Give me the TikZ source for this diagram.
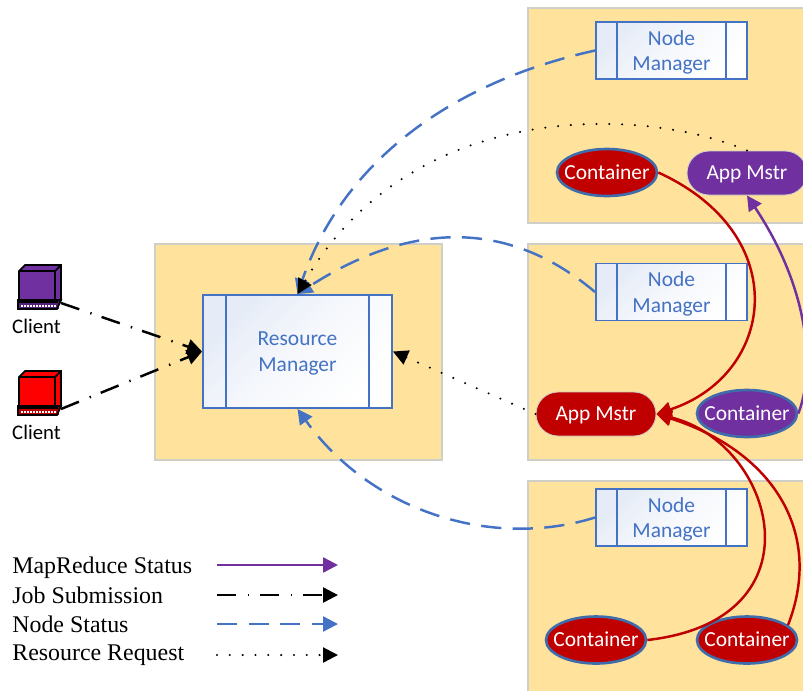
\documentclass[tikz,border=0pt]{standalone}
\usepackage{fontspec}
\setmainfont{Liberation Serif}
\newfontfamily\boxfont{Carlito}
\usetikzlibrary{positioning, calc, arrows.meta, shapes.geometric, shapes.misc}
\definecolor{panelyellow}{HTML}{FFE29B}
\definecolor{panelline}{HTML}{CFCFC8}
\definecolor{boxblue}{HTML}{4472C4}
\definecolor{mrpurple}{HTML}{7030A0}
\definecolor{mrred}{HTML}{C00000}
\definecolor{rimblue}{HTML}{3F6CAB}
\pgfdeclareverticalshading{mgrshade}{100bp}{color(0bp)=(white); color(25bp)=(white); color(50bp)=(white!95!boxblue); color(75bp)=(white!86!boxblue); color(100bp)=(white!86!boxblue)}
\def\px{0.02cm}
\tikzset{
    panel/.style={draw=panelline,fill=panelyellow,line width=1pt,anchor=north west,inner sep=0pt},
    mgrbox/.style={draw=boxblue,line width=1.1pt,align=center,inner sep=0pt,text=boxblue,text depth=0pt,font=\boxfont\fontsize{12.2}{14.5}\selectfont,shading=mgrshade,shading angle=45},
    mgrline/.style={draw=boxblue,line width=1.1pt},
    mstr/.style={rounded rectangle,draw=panelline,line width=.5pt,minimum width=120*\px,minimum height=44*\px,inner sep=0pt,text=white,text height=7.6pt,text depth=0pt,font=\boxfont\fontsize{12.2}{14}\selectfont},
    cont/.style={ellipse,draw=rimblue,line width=1.5pt,minimum width=100*\px,minimum height=47*\px,inner ysep=0pt,inner xsep=-8pt,text=white,text height=7.6pt,text depth=0pt,font=\boxfont\fontsize{12.2}{14}\selectfont},
    clabel/.style={font=\boxfont\fontsize{11.8}{14}\selectfont,text=black,inner sep=0pt},
    lgd/.style={font=\fontsize{13.6}{16}\selectfont,anchor=base west,inner sep=0pt},
    tip/.style={-{Triangle[length=8.5pt,width=8.5pt]}},
    mrstatus/.style={tip,line width=1.4pt},
    jobsub/.style={tip,black,line width=1.4pt,dash pattern=on 11pt off 6.6pt on .8pt off 6pt},
    nodestat/.style={tip,boxblue,line width=1.4pt,dash pattern=on 11.5pt off 6.5pt},
    resreq/.style={tip,black,line width=1.3pt,line cap=round,dash pattern=on 0pt off 7.3pt},
    pics/client/.style={code={
        \draw[black,line width=1pt,fill=#1] (1,7)--(7,1)--(43,1)--(43,36)--(37,45)--(1,45)--cycle;
        \draw[black,line width=1pt] (1,7)--(37,7)--(43,1) (37,7)--(37,36);
        \fill[#1!75!black] (0,36) rectangle (41,45);
        \draw[black,line width=1pt] (0,38)--(40,38) (0,36)--(43,36)--(39,45)--(0,45)--cycle;
        \foreach \i in {3,6,...,36}{
            \fill[white] (\i,41) rectangle ++(1.6,1.6);
        }
        \coordinate (-port) at (43,39);
    }},
}
\begin{document}
\begin{tikzpicture}[x=\px,y=-\px]
    \clip (0,0) rectangle (803,690);
    \node[panel,minimum width=287*\px,minimum height=216*\px] (rmpanel) at (154,243) {};
    \node[panel,minimum width=290*\px,minimum height=215*\px] (toppanel) at (527,7) {};
    \node[panel,minimum width=290*\px,minimum height=216*\px] (midpanel) at (527,243) {};
    \node[panel,minimum width=290*\px,minimum height=225*\px] (botpanel) at (527,480) {};

    \node[mgrbox,minimum width=189*\px,minimum height=113*\px] (rm) at (297.5,351.5) {Resource\\Manager};
    \draw[mgrline] (226,295)--(226,408) (369,295)--(369,408);

    \foreach \nm/\yy in {nma/50.5,nmb/292,nmc/517.5}{
        \node[mgrbox,minimum width=151*\px,minimum height=57*\px] (\nm) at (671.5,\yy) {Node\\Manager};
        \draw[mgrline] ($(\nm.north west)+(22,0)$)--($(\nm.south west)+(22,0)$);
        \draw[mgrline] ($(\nm.north east)+(-22,0)$)--($(\nm.south east)+(-22,0)$);
    }

    \node[cont,fill=mrred] (cnta) at (607,172.5) {Container};
    \node[mstr,fill=mrpurple] (msa) at (747,173) {App Mstr};
    \node[mstr,fill=mrred] (msb) at (596,414) {App Mstr};
    \node[cont,fill=mrpurple] (cntb) at (747,413.5) {Container};
    \node[cont,fill=mrred] (cntc) at (596,640) {Container};
    \node[cont,fill=mrred] (cntd) at (747,640) {Container};

    \pic (cla) at (18,264) {client=mrpurple};
    \pic (clb) at (18,370) {client=red};
    \node[clabel] (clatxt) at (36.5,326) {Client};
    \node[clabel] (clbtxt) at (36.5,432) {Client};

    \draw[jobsub] (cla-port)--(rm.west);
    \draw[jobsub] (clb-port)--(rm.west);

    \draw[nodestat] (nma.west) .. controls (440,85) and (340,170) .. (rm.north);
    \draw[nodestat] (nmb.west) .. controls (500,212) and (400,228) .. (rm.north);
    \draw[nodestat] (nmc.west) .. controls (490,550) and (370,510) .. (rm.south);

    \draw[resreq] (msa.north) .. controls (640,105) and (410,100) .. (rm.north);
    \draw[resreq] (msb.west)--(rm.east);

    \draw[mrstatus,mrred] (cnta.east) .. controls (795,235) and (775,375) .. (msb.east);
    \draw[mrstatus,mrred] (cntc.east) .. controls (825,620) and (775,442) .. (msb.east);
    \draw[mrstatus,mrred] (cntd.20) .. controls (825,530) and (770,450) .. (msb.east);
    \draw[mrstatus,mrpurple] (cntb.east) .. controls (815,370) and (810,290) .. (msa.south);

    \node[lgd] (lgda) at (12,573) {MapReduce Status};
    \node[lgd] (lgdb) at (12,603) {Job Submission};
    \node[lgd] (lgdc) at (12,632) {Node Status};
    \node[lgd] (lgdd) at (12,660) {Resource Request};
    \coordinate (enda) at (338,565);
    \coordinate (endb) at (338,595);
    \coordinate (endc) at (338,624);
    \coordinate (endd) at (338,655);
    \draw[mrstatus,mrpurple] (217,565)--(enda);
    \draw[jobsub] (217,595)--(endb);
    \draw[nodestat] (217,624)--(endc);
    \draw[resreq] (217,655)--(endd);
\end{tikzpicture}
\end{document}
